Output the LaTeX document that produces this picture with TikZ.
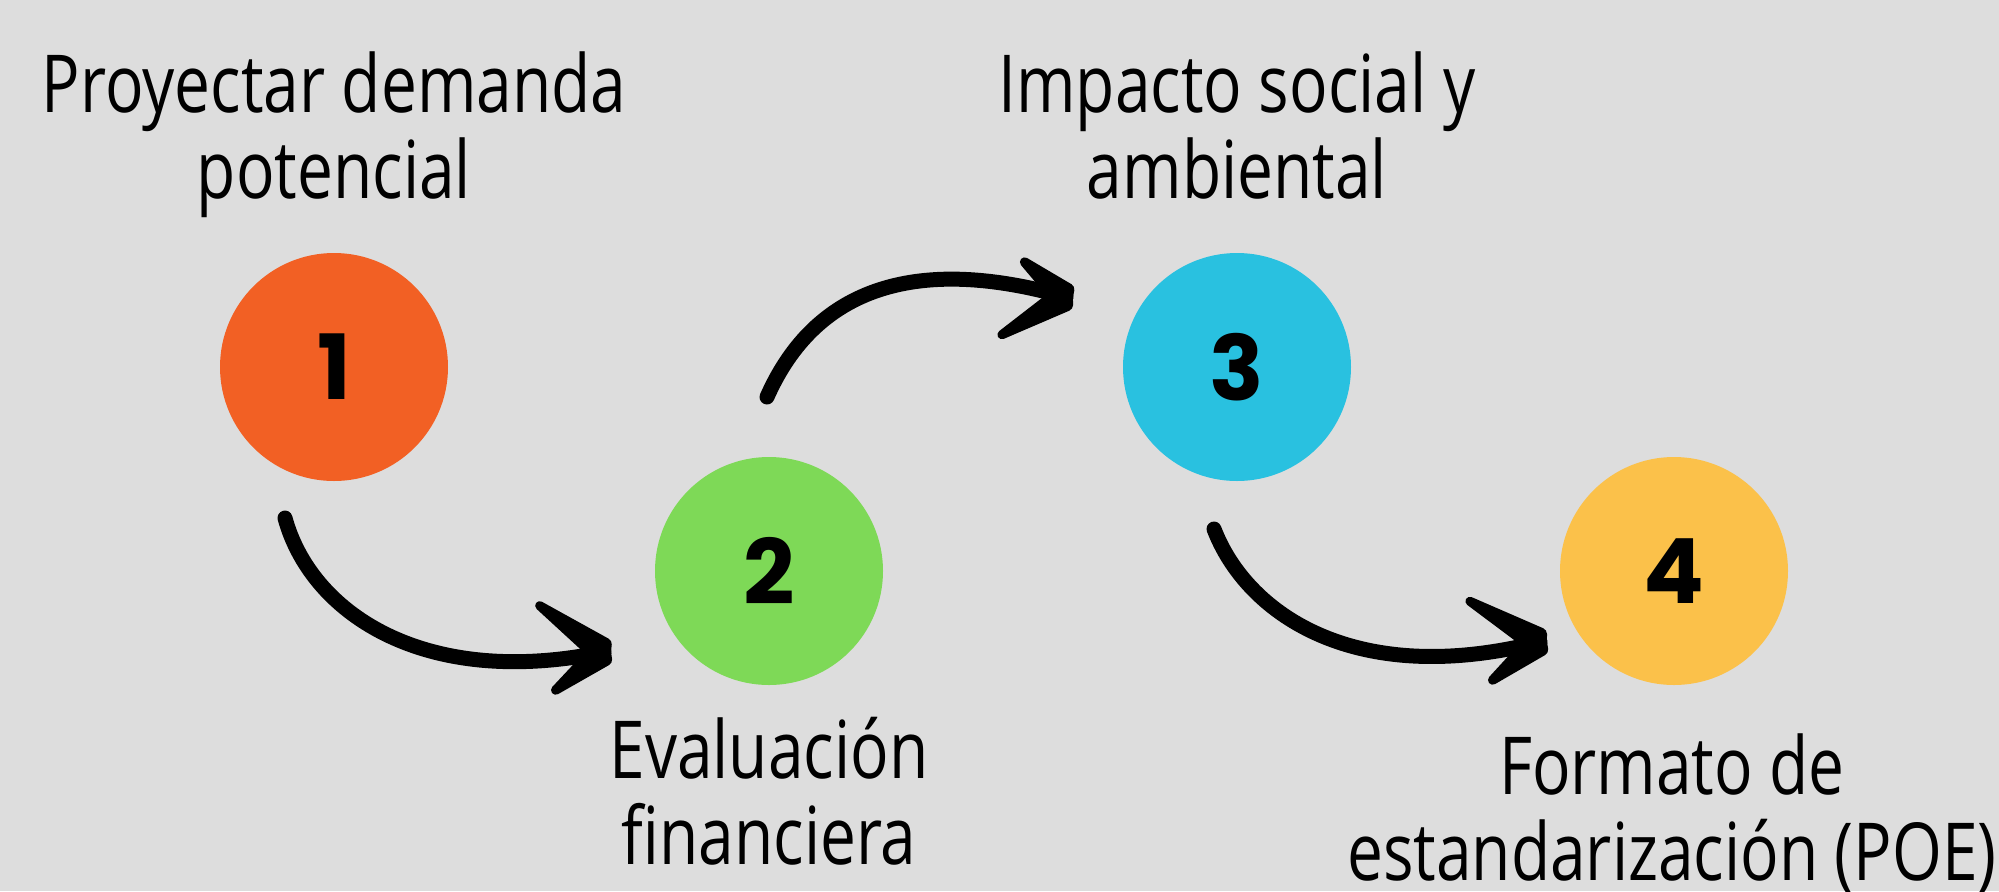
\documentclass[tikz,border=0pt]{standalone}
\usepackage{fontspec}
\usetikzlibrary{calc}
\setmainfont{Open Sans}[FakeStretch=0.8]
\newfontfamily\numfont{Poppins}
\definecolor{bgc}{HTML}{DDDDDD}
\definecolor{c1}{HTML}{F26024}
\definecolor{c2}{HTML}{7ED957}
\definecolor{c3}{HTML}{29C1E0}
\definecolor{c4}{HTML}{FBC14A}
\newcommand{\brushbarb}[2]{%
  \fill[black,rounded corners=2pt]
    ($(#1)!2pt!90:(#2)$) -- ($(#2)!7pt!-90:(#1)$) -- ($(#2)!4pt!180:(#1)$) -- ($(#2)!7pt!90:(#1)$) -- ($(#1)!2pt!-90:(#2)$) -- cycle;}
\begin{document}
\begin{tikzpicture}[x=0.5pt,y=-0.5pt,
  stepcircle/.style={circle,minimum size=114pt,inner sep=0pt,font=\numfont\bfseries\fontsize{45pt}{45pt}\selectfont},
  label/.style={align=center,font=\fontsize{40pt}{43pt}\selectfont,inner sep=0pt},
  shaft/.style={line width=7.5pt,line cap=round}]
\fill[bgc] (0,0) rectangle (1999,891);
\useasboundingbox (0,0) rectangle (1999,891);

\node[stepcircle,fill=c1] (n1) at (334,367) {1};
\node[stepcircle,fill=c2] (n2) at (769,571) {2};
\node[stepcircle,fill=c3] (n3) at (1237,367) {3};
\node[stepcircle,fill=c4] (n4) at (1674,571) {4};

\node[label,anchor=base] (t1) at (334,198) {Proyectar demanda\\potencial};
\node[label,anchor=base] (t3) at (1237,198) {Impacto social y\\ambiental};
\node[label,anchor=base] (t2) at (769,864) {Evaluación\\financiera};
\node[label,anchor=base] (t4) at (1672,880) {Formato de\\estandarización (POE)};

% arrow 1
\coordinate (a1s) at (285,518);
\coordinate (a1t) at (604,652);
\coordinate (a1u) at (536,603);
\coordinate (a1l) at (552,693);
\draw[shaft] (a1s) .. controls (310,610) and (420,690) .. (a1t);
\brushbarb{a1u}{a1t}
\brushbarb{a1l}{a1t}

% arrow 2
\coordinate (a2s) at (767,397);
\coordinate (a2t) at (1066,297);
\coordinate (a2u) at (1021,259);
\coordinate (a2l) at (998,337);
\draw[shaft] (a2s) .. controls (810,300) and (900,250) .. (a2t);
\brushbarb{a2u}{a2t}
\brushbarb{a2l}{a2t}

% arrow 3
\coordinate (a3s) at (1214,529);
\coordinate (a3t) at (1540,642);
\coordinate (a3u) at (1466,599);
\coordinate (a3l) at (1489,683);
\draw[shaft] (a3s) .. controls (1245,610) and (1350,690) .. (a3t);
\brushbarb{a3u}{a3t}
\brushbarb{a3l}{a3t}
\end{tikzpicture}
\end{document}
